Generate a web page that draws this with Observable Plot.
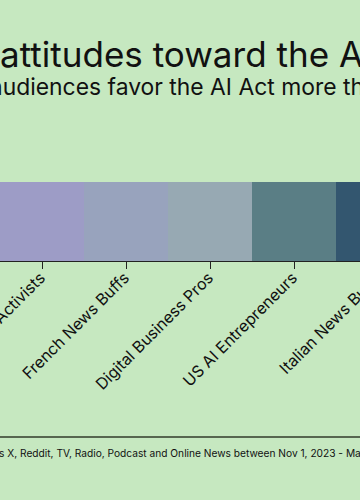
<!DOCTYPE html>
<html><head><meta charset="utf-8">
<script src="https://cdn.jsdelivr.net/npm/d3@7"></script>
<script src="https://cdn.jsdelivr.net/npm/@observablehq/plot@0.6"></script>
<style>
html,body{margin:0;padding:0;background:#c6e8c0;}
body{width:360px;height:500px;overflow:hidden;position:relative;font-family:Inter,sans-serif;color:#111;}
.line{position:absolute;white-space:nowrap;}
.pre{position:absolute;right:100%;top:0;white-space:pre;}
#rule{position:absolute;left:0;width:360px;height:2px;background:#56664f;}
#chart{position:absolute;width:421px;}
#chart svg{overflow:visible;max-width:none !important;}
</style></head><body>
<div id="title" class="line"><span class="pre"></span><span class="main"></span></div>
<div id="subtitle" class="line"><span class="pre"></span><span class="main"></span></div>
<div id="chart"></div>
<div id="rule"></div>
<div id="caption" class="line"><span class="pre"></span><span class="main"></span></div>
<script>
// data
const categories = ["Tech Policy Activists", "French News Buffs", "Digital Business Pros", "US AI Entrepreneurs", "Italian News Buffs"];
const palette = ["#9d9cc6", "#98a3bd", "#97a9b3", "#5a7e85", "#33566f"];
const titlePre = "Audience ", titleMain = "attitudes toward the AI Act";
const subPre = "European a", subMain = "udiences favor the AI Act more than US audiences";
const capPre = "Source: analysis of posts across ", capMain = "X, Reddit, TV, Radio, Podcast and Online News between Nov 1, 2023 - Mar 31, 2024";

const FONT = "Inter";
const ctx = document.createElement("canvas").getContext("2d");
function fitSize(text, target) {
  ctx.font = `400 100px ${FONT}`;
  return 100 * target / ctx.measureText(text).width;
}
function place(id, pre, main, size, left, baseline) {
  ctx.font = `400 ${size}px ${FONT}`;
  const m = ctx.measureText("Hg");
  const asc = m.fontBoundingBoxAscent, desc = m.fontBoundingBoxDescent;
  const el = document.getElementById(id);
  el.style.fontSize = size + "px";
  el.style.lineHeight = (asc + desc) + "px";
  el.style.left = left + "px";
  el.style.top = (baseline - asc) + "px";
  el.querySelector(".pre").textContent = pre;
  el.querySelector(".main").textContent = main;
}
const titleSize = fitSize("attitudes toward the ", 339);
const subSize = fitSize("udiences favor the AI ", 236);
const capSize = fitSize("X, Reddit, TV, Radio, Podcast and Online News between Nov 1, 2023 - ", 339);
place("title", titlePre, titleMain, titleSize, 0, 67);
place("subtitle", subPre, subMain, subSize, 2.7, 95);
place("caption", capPre, capMain, capSize, 7.3, 457);
document.getElementById("rule").style.top = "436px";

const tickSize = fitSize("Digital Business Pros", 158);

const chart = Plot.plot({
  width: 421,
  height: 229,
  marginTop: 0,
  marginBottom: 150,
  marginLeft: 0,
  marginRight: 0,
  style: {background: "transparent", color: "#222", fontFamily: FONT, fontSize: tickSize + "px", maxWidth: "none"},
  x: {domain: categories, padding: 0, tickRotate: -45, tickSize: 8, tickPadding: 6, line: true, label: null},
  color: {domain: categories, range: palette},
  marks: [
    Plot.cell(categories, {x: d => d, fill: d => d})
  ]
});
const holder = document.getElementById("chart");
holder.style.left = "-1px";
holder.style.top = "182px";
holder.appendChild(chart);
chart.querySelectorAll("text").forEach(t => t.setAttribute("fill", "#111"));
</script>
</body></html>
